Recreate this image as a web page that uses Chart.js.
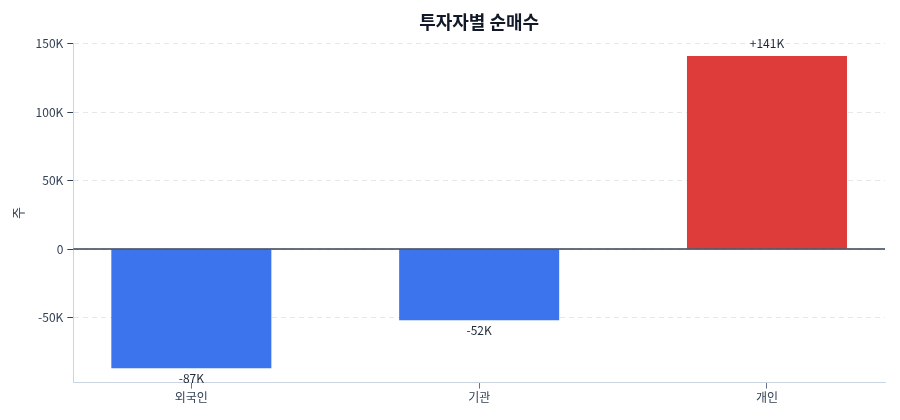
<!DOCTYPE html>
<html>
<head>
<meta charset="utf-8">
<script src="https://cdn.jsdelivr.net/npm/chart.js@4.4.1/dist/chart.umd.min.js"></script>
<style>
  html, body { margin:0; padding:0; background:#fff; }
  #wrap { width:900px; height:420px; }
</style>
</head>
<body>
<div id="wrap"><canvas id="chart" width="900" height="420"></canvas></div>
<script>
// data
const investors = ['외국인', '기관', '개인'];
const netBuy = [-87000, -52000, 141000];
const barColors = ['#3b74ed', '#3b74ed', '#de3b3b'];
const yTicks = [-50000, 0, 50000, 100000, 150000];

const FONT = "'Noto Sans CJK KR', 'Noto Sans', sans-serif";

function fmtK(v){
    if(v===0) return '0';
    return (v/1000)+'K';
}

// value labels + zero line
const labelPlugin = {
    id:'labels',
    afterDatasetsDraw(chart){
        const ctx = chart.ctx;
        const y = chart.scales.y;
        const area = chart.chartArea;
        const y0 = y.getPixelForValue(0);
        ctx.save();
        ctx.strokeStyle = '#334155';
        ctx.lineWidth = 1.5;
        ctx.beginPath();
        ctx.moveTo(area.left, y0);
        ctx.lineTo(area.right, y0);
        ctx.stroke();

        ctx.font = "12px " + FONT;
        ctx.fillStyle = '#1f2937';
        ctx.textAlign = 'center';
        ctx.textBaseline = 'middle';
        chart.getDatasetMeta(0).data.forEach((bar,i)=>{
            const v = netBuy[i];
            const txt = (v>0?'+':'') + Math.round(v/1000) + 'K';
            const yy = v>0 ? bar.y - 12 : bar.y + 10;
            ctx.fillText(txt, bar.x, yy);
        });
        ctx.restore();
    }
};

const ctx = document.getElementById('chart').getContext('2d');
new Chart(ctx, {
    type:'bar',
    data:{
        datasets:[{
            data: netBuy.map((v,i)=>({x:i, y:v})),
            backgroundColor: barColors,
            borderWidth: 0,
            barPercentage: 0.556,
            categoryPercentage: 1.0
        }]
    },
    options:{
        responsive:false,
        animation:false,
        layout:{ padding:{ left:6, right:15, top:3, bottom:13 } },
        plugins:{
            legend:{ display:false },
            tooltip:{ enabled:false },
            title:{
                display:true,
                text:'투자자별 순매수',
                fullSize:false,
                color:'#111827',
                font:{ family:FONT, size:18, weight:'bold' },
                padding:{ top:8, bottom:11 }
            }
        },
        scales:{
            x:{
                type:'linear',
                offset:false,
                min:-0.41,
                max:2.41,
                afterBuildTicks(scale){ scale.ticks = investors.map((_,i)=>({value:i})); },
                grid:{ offset:false, drawOnChartArea:false, tickLength:6, tickColor:'#64748b' },
                border:{ color:'#cbd5e1', width:1 },
                ticks:{ color:'#334155', font:{ family:FONT, size:12 }, padding:2,
                        callback:(v)=>investors[v] }
            },
            y:{
                min:-97500,
                max:150000,
                afterBuildTicks(scale){ scale.ticks = yTicks.map(v=>({value:v})); },
                grid:{ color:'#e5e7eb', tickColor:'#334155', tickLength:6, lineWidth:1 },
                border:{ color:'#cbd5e1', width:1, dash:[5,4] },
                ticks:{ color:'#334155', font:{ family:FONT, size:12 }, padding:4,
                        callback:(v)=>fmtK(v) },
                title:{ display:true, text:'주', color:'#334155',
                        font:{ family:FONT, size:13 }, padding:{ bottom:6 } }
            }
        }
    },
    plugins:[labelPlugin]
});
</script>
</body>
</html>
